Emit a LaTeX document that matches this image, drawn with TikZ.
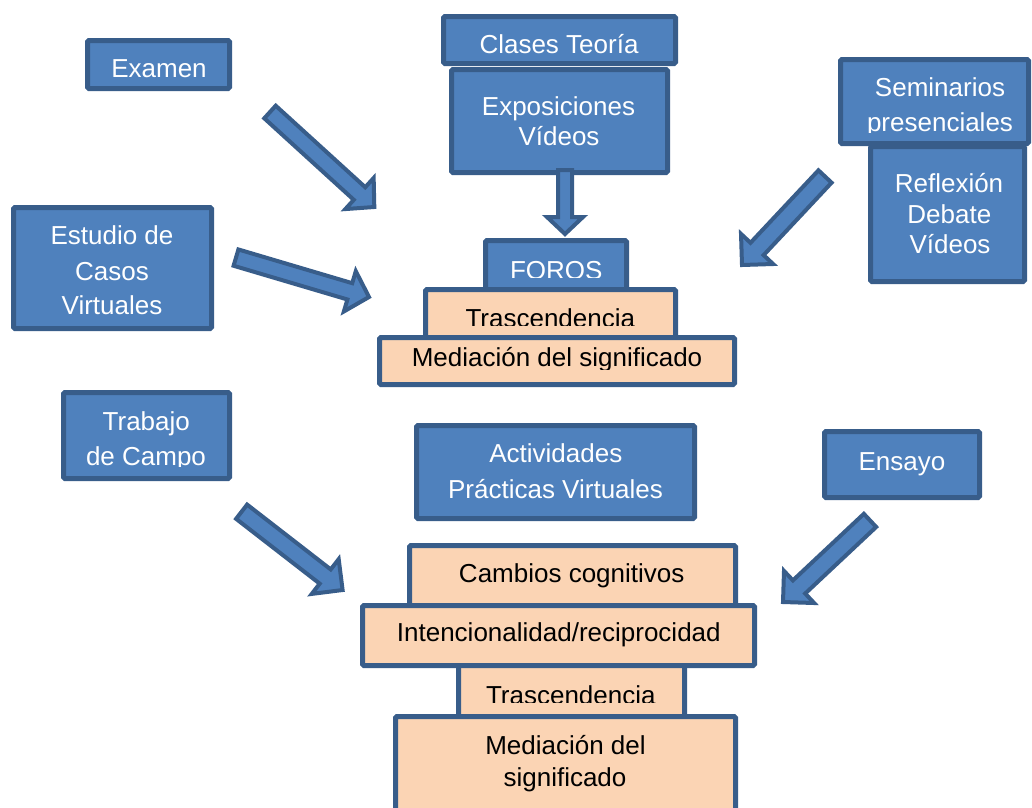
\documentclass[tikz,border=0pt]{standalone}
\usepackage{fontspec}
\setmainfont{Liberation Sans}
\usetikzlibrary{calc}
\definecolor{bfill}{HTML}{4F81BD}
\definecolor{bline}{HTML}{385D8A}
\definecolor{ofill}{HTML}{FBD4B4}
\tikzset{
  box/.style={draw=bline, line width=5pt, rounded corners=1.5pt, inner sep=0pt, outer sep=0pt, anchor=center},
  bbox/.style={box, fill=bfill},
  obox/.style={box, fill=ofill},
  wtxt/.style={text=white, inner sep=0pt, anchor=base, font=\fontsize{26}{31}\selectfont},
  ktxt/.style={wtxt, text=black},
  barrow/.style={draw=bline, fill=bfill, line width=4pt, line join=miter},
}
% style, name, left, right, top, bottom (outer edges, px)
\newcommand\mybox[6]{%
  \node[#1, minimum width={(#4-#3-5)*1pt}, minimum height={(#6-#5-5)*1pt}] (#2) at ({(#3+#4)/2},{(#5+#6)/2}) {};}
% tail, tip, half shaft, half head, head length
\newcommand\blockarrow[5]{%
  \coordinate (#1-base) at ($(#2)!#5pt!(#1)$);
  \draw[barrow] ($(#1)!#3pt!90:(#2)$) -- ($(#1-base)!#3pt!-90:(#1)$) -- ($(#1-base)!#4pt!-90:(#1)$) -- (#2)
    -- ($(#1-base)!#4pt!90:(#1)$) -- ($(#1-base)!#3pt!90:(#1)$) -- ($(#1)!#3pt!-90:(#2)$) -- cycle;}
\begin{document}
\begin{tikzpicture}[x=1pt,y=-1pt]
\clip (0,0) rectangle (1032,807);
\fill[white] (0,0) rectangle (1032,807);

% ---- top left
\mybox{bbox}{examen}{85}{232}{38}{91}
\node[wtxt] (examen-t) at (159,77.3) {Examen};
\mybox{bbox}{estudio}{11}{214}{205}{331}
\node[wtxt] (estudio-t1) at (112,244.5) {Estudio de};
\node[wtxt] (estudio-t2) at (112,280) {Casos};
\node[wtxt] (estudio-t3) at (112,314.5) {Virtuales};

% ---- top centre
\mybox{bbox}{clases}{441}{678}{14}{66}
\node[wtxt] (clases-t) at (559,53.3) {Clases Teoría};
\mybox{bbox}{expos}{449}{670}{67}{175}
\node[wtxt] (expos-t1) at (558.5,115) {Exposiciones};
\node[wtxt] (expos-t2) at (559,145) {Vídeos};
\coordinate (a0t) at (565,170);
\coordinate (a0h) at (565,234);
\blockarrow{a0t}{a0h}{7}{18}{17}

\mybox{bbox}{foros}{483}{629}{238}{295}
\begin{scope}
  \clip (470,240) rectangle (640,277);
  \node[wtxt] (foros-t) at (556.3,279) {FOROS};
\end{scope}
\mybox{obox}{trasc1}{423}{678}{287}{345}
\begin{scope}
  \clip (400,290) rectangle (700,325.5);
  \node[ktxt] (trasc1-t) at (550.3,327) {Trascendencia};
\end{scope}
\mybox{obox}{medi1}{377}{737}{335}{387}
\begin{scope}
  \clip (380,338) rectangle (735,369);
  \node[ktxt] (medi1-t) at (557,366) {Mediación del significado};
\end{scope}

% ---- top right
\mybox{bbox}{semin}{838}{1031}{57}{146}
\node[wtxt] (semin-t1) at (940,96) {Seminarios};
\begin{scope}
  \clip (840,100) rectangle (1030,132.5);
  \node[wtxt] (semin-t2) at (940,131) {presenciales};
\end{scope}
\mybox{bbox}{reflex}{868}{1027}{144}{284}
\node[wtxt] (reflex-t1) at (949,192.3) {Reflexión};
\node[wtxt] (reflex-t2) at (949.3,223.3) {Debate};
\node[wtxt] (reflex-t3) at (950,253.3) {Vídeos};

% ---- upper arrows
\coordinate (a1t) at (270,112);
\coordinate (a1h) at (374.3,207);
\blockarrow{a1t}{a1h}{8.5}{21}{20}
\coordinate (a2t) at (236,257.6);
\coordinate (a2h) at (369,297);
\blockarrow{a2t}{a2h}{8.5}{21}{20}
\coordinate (a3t) at (825,176.5);
\coordinate (a3h) at (742,265);
\blockarrow{a3t}{a3h}{9}{22}{22}

% ---- lower part
\mybox{bbox}{trabajo}{61}{232}{390}{481}
\node[wtxt] (trabajo-t1) at (146.3,430) {Trabajo};
\begin{scope}
  \clip (65,435) rectangle (230,466);
  \node[wtxt] (trabajo-t2) at (146,465) {de Campo};
\end{scope}
\mybox{bbox}{activ}{414}{697}{423}{521}
\node[wtxt] (activ-t1) at (555.8,462.7) {Actividades};
\node[wtxt] (activ-t2) at (555.5,498.3) {Prácticas Virtuales};
\mybox{bbox}{ensayo}{822}{982}{429}{500}
\node[wtxt] (ensayo-t) at (902,470) {Ensayo};

\coordinate (a4t) at (241.6,511.7);
\coordinate (a4h) at (342.6,590);
\blockarrow{a4t}{a4h}{9}{22}{22}
\coordinate (a5t) at (870,520.4);
\coordinate (a5h) at (783,602);
\blockarrow{a5t}{a5h}{9}{22}{22}

\mybox{obox}{cambios}{407}{738}{543}{612}
\node[ktxt] (cambios-t) at (571.7,582.7) {Cambios cognitivos};
\mybox{obox}{trasc2}{456}{687}{660}{722}
\begin{scope}
  \clip (460,670) rectangle (685,702.5);
  \node[ktxt] (trasc2-t) at (570.8,704) {Trascendencia};
\end{scope}
\mybox{obox}{intenc}{360}{757}{603}{668}
\node[ktxt] (intenc-t) at (558.8,641.7) {Intencionalidad/reciprocidad};
\mybox{obox}{medi2}{393}{738}{714}{830}
\node[ktxt] (medi2-t1) at (565.5,754.3) {Mediación del};
\node[ktxt] (medi2-t2) at (565,786) {significado};
\end{tikzpicture}
\end{document}
